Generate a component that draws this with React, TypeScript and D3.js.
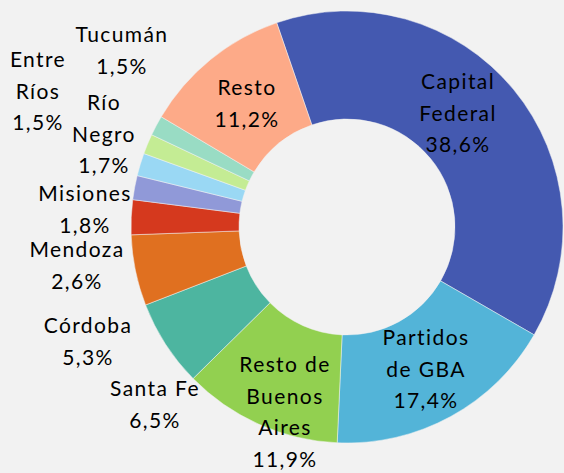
import React, { useEffect, useRef } from 'react';
import * as d3 from 'd3';

// provincias y porcentajes (sentido horario desde Capital Federal)
const categories = ['Capital Federal', 'Partidos de GBA', 'Resto de Buenos Aires', 'Santa Fe', 'Córdoba', 'Mendoza', 'Misiones', 'Río Negro', 'Entre Ríos', 'Tucumán', 'Resto'];
const values = [38.6, 17.4, 11.9, 6.5, 5.3, 2.6, 1.8, 1.7, 1.5, 1.5, 11.2];
const labelLines = [
  ['Capital', 'Federal'],
  ['Partidos', 'de GBA'],
  ['Resto de', 'Buenos', 'Aires'],
  ['Santa Fe'],
  ['Córdoba'],
  ['Mendoza'],
  ['Misiones'],
  ['Río', 'Negro'],
  ['Entre', 'Ríos'],
  ['Tucumán'],
  ['Resto'],
];
const colors = ['#4459b0', '#53b4d8', '#92d050', '#4db5a0', '#e07020', '#d5391e', '#9099d8', '#9ad8f4', '#c4ec94', '#99dcc4', '#fdaa88'];

// label block centers (top line center y)
const labelPos: [number, number][] = [
  [458, 82], [426, 338], [285, 365], [155, 389], [88, 326], [77, 250],
  [85, 194], [104, 103], [38, 60], [122, 35], [247, 88],
];

export default function App() {
  const ref = useRef<SVGSVGElement>(null);

  useEffect(() => {
    const width = 564, height = 473;
    const cx = 347, cy = 227, outer = 216, inner = 108;
    const svg = d3.select(ref.current);
    svg.selectAll('*').remove();

    svg.append('rect').attr('width', width).attr('height', height).attr('fill', '#f2f2f2');

    const data = categories.map((c, i) => ({ name: c, value: values[i], i }));
    const start = -19 * Math.PI / 180;
    const pie = d3.pie<any>().value(d => d.value).sort(null)
      .startAngle(start).endAngle(start + 2 * Math.PI);
    const arc = d3.arc<any>().innerRadius(inner).outerRadius(outer);

    const g = svg.append('g').attr('transform', 'translate(' + cx + ',' + cy + ')');
    g.selectAll('path')
      .data(pie(data))
      .enter().append('path')
      .attr('d', arc)
      .attr('fill', d => colors[d.data.i])
      .attr('stroke', '#f2f2f2')
      .attr('stroke-width', 0.5);

    const lineH = 31.5;
    data.forEach((d, i) => {
      const lines = labelLines[i].concat([d3.format('.1f')(d.value).replace('.', ',') + '%']);
      const [x, y] = labelPos[i];
      const t = svg.append('text')
        .attr('text-anchor', 'middle')
        .style('font-family', 'Lato, "Open Sans", sans-serif')
        .style('font-size', '21px')
        .style('letter-spacing', '1.4px')
        .attr('fill', '#000');
      lines.forEach((l, k) => {
        t.append('tspan').attr('x', x).attr('y', y + k * lineH).attr('dy', '0.35em').text(l);
      });
    });
  }, []);

  return (
    <svg ref={ref} width={564} height={473}
      style={{ position: 'fixed', left: 0, top: 0, display: 'block' }} />
  );
}
